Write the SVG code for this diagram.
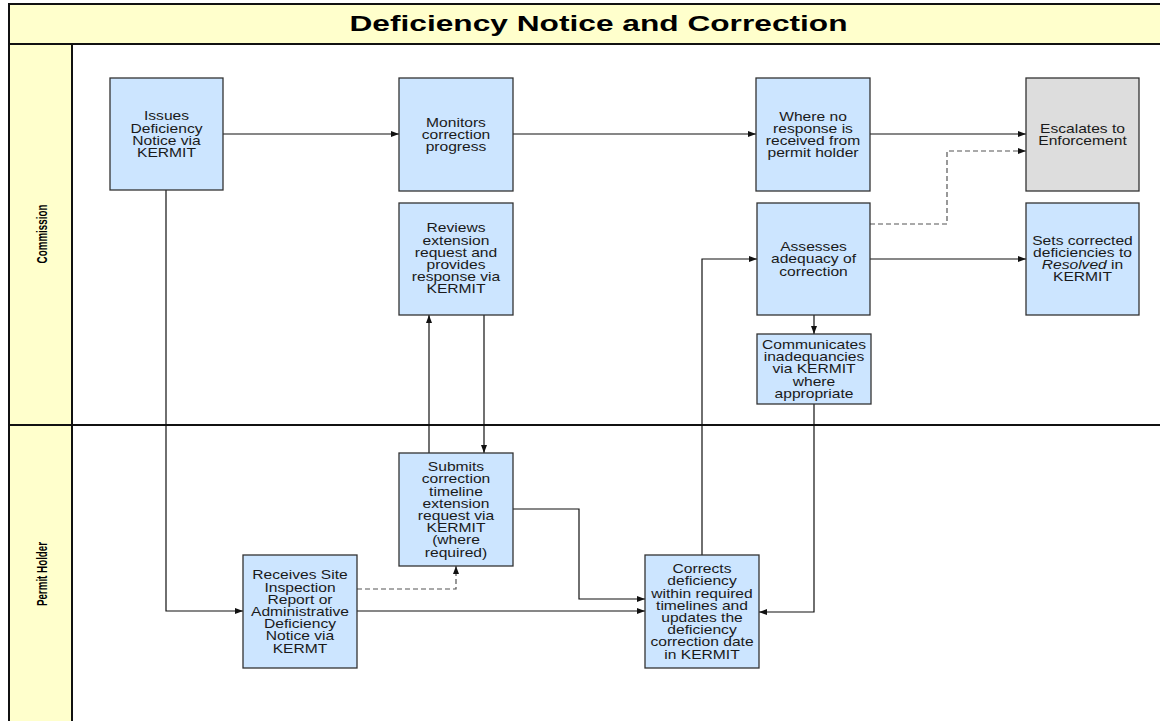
<svg xmlns="http://www.w3.org/2000/svg" width="1160" height="721" viewBox="0 0 1160 721">
<style>
.frame{fill:none;stroke:#111;stroke-width:2}
.band{fill:#FFFFCC;stroke:none}
.box{fill:#CCE5FF;stroke:#333;stroke-width:1.3}
.grey{fill:#DDDDDD;stroke:#333;stroke-width:1.3}
.t{font-family:"Liberation Sans",Arial,sans-serif;font-size:12.5px;fill:#1a1a1a;text-anchor:middle}
.lane{font-family:"Liberation Sans",Arial,sans-serif;font-size:9.8px;font-weight:bold;fill:#000;text-anchor:middle}
.title{font-family:"Liberation Sans",Arial,sans-serif;font-size:22px;font-weight:bold;fill:#000;text-anchor:middle}
.c{fill:none;stroke:#111;stroke-width:1.2;marker-end:url(#ah)}
.d{fill:none;stroke:#555;stroke-width:1.2;stroke-dasharray:5,3;marker-end:url(#ah)}
</style>
<defs>
<marker id="ah" markerUnits="userSpaceOnUse" markerWidth="9" markerHeight="7" refX="8" refY="3" orient="auto">
<path d="M0,0 L8,3 L0,6 z" fill="#111"/>
</marker>
</defs>
<rect x="0" y="0" width="1160" height="721" fill="#fff"/>
<g id="pool">
<rect class="band" x="9" y="4" width="1160" height="40"/>
<rect class="band" x="9" y="44" width="63" height="690"/>
<path class="frame" d="M1170,4 H9 V730 M9,44 H1170 M72,44 V730 M9,425 H1170"/>
<text class="title" transform="translate(598.5,0) scale(1.44,1)" x="0" y="31.5">Deficiency Notice and Correction</text>
<text class="lane" transform="translate(47,234) scale(1.5,1) rotate(-90)" x="0" y="0">Commission</text>
<text class="lane" transform="translate(47,574) scale(1.5,1) rotate(-90)" x="0" y="0">Permit Holder</text>
</g>
<g id="connectors">
<path class="c" d="M223,134 H399"/>
<path class="c" d="M513,134 H756"/>
<path class="c" d="M870,134 H1026"/>
<path class="d" d="M870,224 H947 V151 H1026"/>
<path class="c" d="M870,259 H1026"/>
<path class="c" d="M814,315 V334"/>
<path class="c" d="M814,404 V612 H759"/>
<path class="c" d="M166,190 V611 H243"/>
<path class="c" d="M357,611 H645"/>
<path class="d" d="M357,589 H456 V566"/>
<path class="c" d="M513,509 H579 V599 H645"/>
<path class="c" d="M429,453 V315"/>
<path class="c" d="M484,315 V453"/>
<path class="c" d="M702,555 V259 H757"/>
</g>
<g id="n1">
<rect class="box" x="110" y="78" width="113" height="112"/>
<text class="t" transform="translate(166.5,0) scale(1.25,1)"><tspan x="0" y="120.5">Issues</tspan><tspan x="0" y="132.7">Deficiency</tspan><tspan x="0" y="144.9">Notice via</tspan><tspan x="0" y="157.1">KERMIT</tspan></text>
</g>
<g id="n2">
<rect class="box" x="399" y="78" width="114" height="113"/>
<text class="t" transform="translate(456,0) scale(1.25,1)"><tspan x="0" y="126.8">Monitors</tspan><tspan x="0" y="139">correction</tspan><tspan x="0" y="151.2">progress</tspan></text>
</g>
<g id="n3">
<rect class="box" x="399" y="203" width="114" height="112"/>
<text class="t" transform="translate(456,0) scale(1.25,1)"><tspan x="0" y="232.5">Reviews</tspan><tspan x="0" y="244.7">extension</tspan><tspan x="0" y="256.9">request and</tspan><tspan x="0" y="269.1">provides</tspan><tspan x="0" y="281.3">response via</tspan><tspan x="0" y="293.5">KERMIT</tspan></text>
</g>
<g id="n4">
<rect class="box" x="756" y="78" width="114" height="113"/>
<text class="t" transform="translate(813,0) scale(1.25,1)"><tspan x="0" y="120.7">Where no</tspan><tspan x="0" y="132.9">response is</tspan><tspan x="0" y="145.1">received from</tspan><tspan x="0" y="157.3">permit holder</tspan></text>
</g>
<g id="n5">
<rect class="grey" x="1026" y="78" width="113" height="113"/>
<text class="t" transform="translate(1082.5,0) scale(1.25,1)"><tspan x="0" y="132.8">Escalates to</tspan><tspan x="0" y="145">Enforcement</tspan></text>
</g>
<g id="n6">
<rect class="box" x="757" y="203" width="113" height="112"/>
<text class="t" transform="translate(813.5,0) scale(1.25,1)"><tspan x="0" y="251.3">Assesses</tspan><tspan x="0" y="263.5">adequacy of</tspan><tspan x="0" y="275.7">correction</tspan></text>
</g>
<g id="n7">
<rect class="box" x="1026" y="203" width="113" height="112"/>
<text class="t" transform="translate(1082.5,0) scale(1.25,1)"><tspan x="0" y="244.7">Sets corrected</tspan><tspan x="0" y="256.9">deficiencies to</tspan><tspan x="0" y="269.1"><tspan font-style="italic">Resolved</tspan> in</tspan><tspan x="0" y="281.3">KERMIT</tspan></text>
</g>
<g id="n8">
<rect class="box" x="757" y="334" width="114" height="70"/>
<text class="t" transform="translate(814,0) scale(1.25,1)"><tspan x="0" y="349.1">Communicates</tspan><tspan x="0" y="361.3">inadequancies</tspan><tspan x="0" y="373.5">via KERMIT</tspan><tspan x="0" y="385.7">where</tspan><tspan x="0" y="397.9">appropriate</tspan></text>
</g>
<g id="n9">
<rect class="box" x="243" y="555" width="114" height="113"/>
<text class="t" transform="translate(300,0) scale(1.25,1)"><tspan x="0" y="579.4">Receives Site</tspan><tspan x="0" y="591.6">Inspection</tspan><tspan x="0" y="603.8">Report or</tspan><tspan x="0" y="616">Administrative</tspan><tspan x="0" y="628.2">Deficiency</tspan><tspan x="0" y="640.4">Notice via</tspan><tspan x="0" y="652.6">KERMT</tspan></text>
</g>
<g id="n10">
<rect class="box" x="399" y="453" width="114" height="113"/>
<text class="t" transform="translate(456,0) scale(1.25,1)"><tspan x="0" y="471.3">Submits</tspan><tspan x="0" y="483.5">correction</tspan><tspan x="0" y="495.7">timeline</tspan><tspan x="0" y="507.9">extension</tspan><tspan x="0" y="520.1">request via</tspan><tspan x="0" y="532.3">KERMIT</tspan><tspan x="0" y="544.5">(where</tspan><tspan x="0" y="556.7">required)</tspan></text>
</g>
<g id="n11">
<rect class="box" x="645" y="555" width="114" height="113"/>
<text class="t" transform="translate(702,0) scale(1.25,1)"><tspan x="0" y="573.3">Corrects</tspan><tspan x="0" y="585.5">deficiency</tspan><tspan x="0" y="597.7">within required</tspan><tspan x="0" y="609.9">timelines and</tspan><tspan x="0" y="622.1">updates the</tspan><tspan x="0" y="634.3">deficiency</tspan><tspan x="0" y="646.5">correction date</tspan><tspan x="0" y="658.7">in KERMIT</tspan></text>
</g>
</svg>
